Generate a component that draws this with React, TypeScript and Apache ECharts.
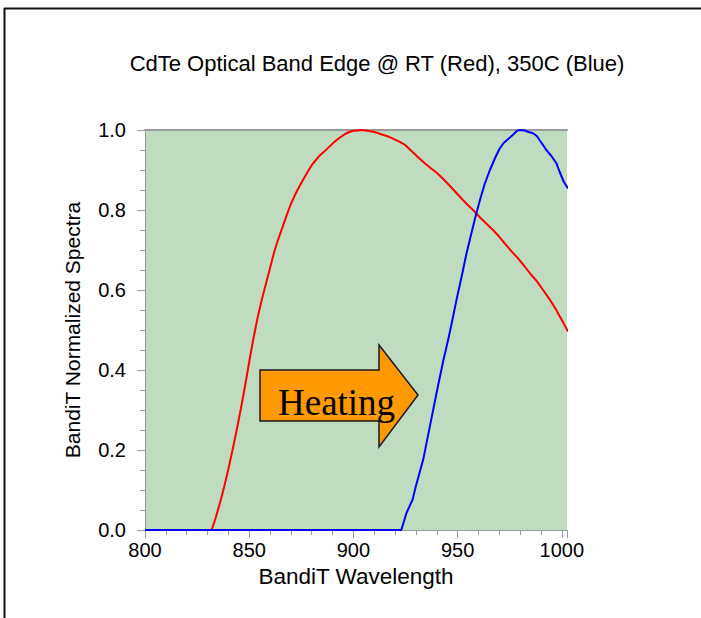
import React, { useEffect, useRef } from "react";
import * as echarts from "echarts";

const titleText = "CdTe Optical Band Edge @ RT (Red), 350C (Blue)";
const xAxisName = "BandiT Wavelength";
const yAxisName = "BandiT Normalized Spectra";
const annotationText = "Heating";

// RT spectrum (red): [wavelength, normalized]
const rtWavelength = [800, 832, 834, 836, 838, 840, 842, 844, 846, 848, 850, 852, 854, 856, 858, 860, 862, 864, 866, 868, 870, 872, 874, 876, 878, 880, 882, 884, 886, 888, 890, 892, 894, 896, 898, 900, 902, 904, 906, 908, 910, 912, 914, 916, 918, 920, 922, 925, 928, 931, 934, 937, 940, 943, 946, 949, 952, 955, 958, 961, 964, 967, 970, 973, 976, 979, 982, 985, 988, 991, 994, 997, 1000, 1003];
const rtValues = [0, 0, 0.032, 0.068, 0.108, 0.152, 0.2, 0.25, 0.303, 0.36, 0.42, 0.478, 0.53, 0.575, 0.615, 0.655, 0.695, 0.728, 0.757, 0.787, 0.815, 0.838, 0.858, 0.877, 0.895, 0.912, 0.925, 0.937, 0.946, 0.956, 0.966, 0.975, 0.983, 0.99, 0.995, 0.998, 0.999, 1.0, 0.999, 0.997, 0.995, 0.992, 0.988, 0.985, 0.981, 0.976, 0.971, 0.962, 0.947, 0.932, 0.918, 0.905, 0.893, 0.878, 0.862, 0.845, 0.828, 0.812, 0.797, 0.78, 0.765, 0.75, 0.733, 0.714, 0.696, 0.679, 0.66, 0.64, 0.622, 0.6, 0.578, 0.553, 0.525, 0.496];

// 350C spectrum (blue)
const hotWavelength = [800, 923, 925.5, 928.4, 930, 933.5, 936.7, 940, 943, 945.5, 947.5, 949.5, 952, 954.3, 957, 959, 961, 963, 965.5, 968, 970, 972, 974, 976.6, 978.5, 980, 982, 984, 986.2, 988, 990, 992.6, 995, 997.4, 999, 1001, 1003];
const hotValues = [0, 0, 0.043, 0.076, 0.11, 0.176, 0.259, 0.345, 0.42, 0.476, 0.525, 0.576, 0.635, 0.692, 0.75, 0.792, 0.83, 0.865, 0.9, 0.93, 0.952, 0.967, 0.976, 0.988, 0.998, 1.0, 0.999, 0.995, 0.992, 0.985, 0.97, 0.95, 0.935, 0.917, 0.895, 0.87, 0.854];

const xMin = 800;
const xMax = 1002.5;
const xInterval = 50;
const yMin = 0;
const yMax = 1;
const yInterval = 0.2;

const zip = (xs: number[], ys: number[]) => xs.map((x, i) => [x, ys[i]]);

export default function App() {
  const ref = useRef<HTMLDivElement>(null);

  useEffect(() => {
    if (!ref.current) return;
    const chart = echarts.init(ref.current, null, { renderer: "svg" });
    const sans = "'Liberation Sans', Arial, Helvetica, sans-serif";
    const tickColor = "#9a9a9a";
    chart.setOption({
      animation: false,
      backgroundColor: "#ffffff",
      title: {
        text: titleText,
        left: 372,
        textAlign: "center",
        top: 47,
        textStyle: { fontFamily: sans, fontSize: 22, fontWeight: "normal", color: "#000" },
      },
      grid: {
        left: 145,
        top: 130,
        width: 422,
        height: 400,
        show: true,
        backgroundColor: "#C0DCC0",
        borderWidth: 0,
      },
      xAxis: [
        {
          type: "value",
          min: xMin,
          max: xMax,
          interval: xInterval,
          name: xAxisName,
          nameLocation: "middle",
          nameGap: 31,
          nameTextStyle: { fontFamily: sans, fontSize: 22.5, color: "#000" },
          axisLine: { show: true, lineStyle: { color: tickColor, width: 1 } },
          axisTick: { show: true, length: 8, lineStyle: { color: tickColor } },
          minorTick: { show: true, splitNumber: 5, length: 5, lineStyle: { color: tickColor } },
          splitLine: { show: false },
          axisLabel: {
            margin: 10,
            fontFamily: sans,
            fontSize: 20,
            color: "#000",
            showMaxLabel: false,
            formatter: (v: number) => String(v),
          },
        },
        {
          type: "value",
          position: "top",
          min: xMin,
          max: xMax,
          axisLine: { show: true, lineStyle: { color: tickColor, width: 2 } },
          axisTick: { show: false },
          axisLabel: { show: false },
          splitLine: { show: false },
        },
      ],
      yAxis: {
        type: "value",
        min: yMin,
        max: yMax,
        interval: yInterval,
        name: yAxisName,
        nameLocation: "middle",
        nameGap: 62,
        nameTextStyle: { fontFamily: sans, fontSize: 21, color: "#000" },
        axisLine: { show: true, lineStyle: { color: tickColor, width: 1 } },
        axisTick: { show: true, length: 8, lineStyle: { color: tickColor } },
        minorTick: { show: true, splitNumber: 4, length: 5, lineStyle: { color: tickColor } },
        splitLine: { show: false },
        axisLabel: {
          margin: 19,
          fontFamily: sans,
          fontSize: 20,
          color: "#000",
          formatter: (v: number) => v.toFixed(1),
        },
      },
      series: [
        {
          type: "line",
          name: "RT",
          data: zip(rtWavelength, rtValues),
          showSymbol: false,
          symbol: "none",
          lineStyle: { color: "#FF0000", width: 2 },
          clip: true,
          z: 3,
        },
        {
          type: "line",
          name: "350C",
          data: zip(hotWavelength, hotValues),
          showSymbol: false,
          symbol: "none",
          lineStyle: { color: "#0000FF", width: 2 },
          clip: true,
          z: 4,
        },
      ],
      graphic: [
        {
          type: "line",
          shape: { x1: 4.5, y1: 8, x2: 4.5, y2: 618 },
          style: { stroke: "#111", lineWidth: 2 },
        },
        {
          type: "line",
          shape: { x1: 4, y1: 8.5, x2: 701, y2: 8.5 },
          style: { stroke: "#111", lineWidth: 2 },
        },
        {
          type: "polygon",
          z: 10,
          shape: {
            points: [
              [260, 370],
              [379, 370],
              [379, 345],
              [418, 395],
              [379, 447],
              [379, 421],
              [260, 421],
            ],
          },
          style: { fill: "#FF9900", stroke: "#1a1a1a", lineWidth: 1.5 },
        },
        {
          type: "text",
          z: 11,
          x: 278,
          y: 402,
          style: {
            text: annotationText,
            font: "37px 'Liberation Serif', 'DejaVu Serif', serif",
            fill: "#000",
            verticalAlign: "middle",
            align: "left",
          },
        },
      ],
    });
    return () => chart.dispose();
  }, []);

  return (
    <div style={{ position: "fixed", left: 0, top: 0, width: 701, height: 618, background: "#fff" }}>
      <div ref={ref} style={{ width: 701, height: 618 }} />
    </div>
  );
}
